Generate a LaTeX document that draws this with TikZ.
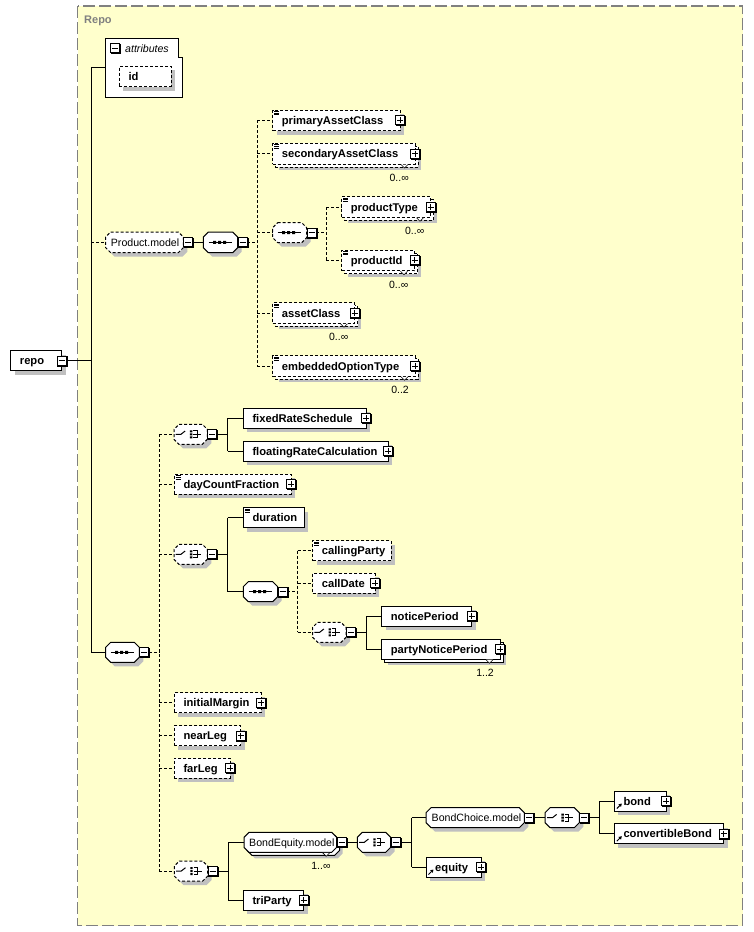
\documentclass[tikz,border=0pt]{standalone}
\usepackage{fontspec}
\setmainfont{Liberation Sans}
\usetikzlibrary{arrows.meta,calc}
\definecolor{bg}{RGB}{255,255,204}
\definecolor{shadowc}{RGB}{192,192,192}
\definecolor{framec}{RGB}{128,128,128}
\tikzset{
  ln/.style={line width=1pt},
  opt/.style={dash pattern=on 3pt off 2pt},
  frame/.style={draw=black, line width=1pt, fill=white},
  ename/.style={font=\fontsize{11.2}{13}\selectfont\bfseries, inner sep=0pt},
  mname/.style={font=\fontsize{10.6}{12}\selectfont, inner sep=0pt},
  occ/.style={font=\fontsize{10.5}{12}\selectfont, inner sep=0pt},
  pmbox/.style={draw=black, fill=white, line width=1pt, minimum size=9pt, inner sep=0pt, outer sep=0pt},
  boxnode/.style={inner sep=0pt, outer sep=0pt, anchor=north west},
}
% plain element box: name, style, x1, y1, x2, y2, text
\newcommand\Elem[7]{%
  \fill[shadowc] ({#3+4},{#4+4}) rectangle ({#5+4},{#6+4});
  \node[frame,#2,boxnode,minimum width={#5-#3},minimum height={#6-#4}] (#1) at (#3,#4) {};
  \node[ename,anchor=base west] (#1-t) at ({#3+9},{(#4+#6)/2+4}) {#7};
}
% multiple-occurrence element box
\newcommand\MElem[8]{%
  \fill[shadowc] ({#3+6},{#4+6}) rectangle ({#5+6},{#6+6});
  \draw[frame,#2] ({#3+3},{#4+3}) rectangle ({#5+3},{#6+3});
  \node[frame,#2,boxnode,minimum width={#5-#3},minimum height={#6-#4}] (#1) at (#3,#4) {};
  \node[ename,anchor=base west] (#1-t) at ({#3+9},{(#4+#6)/2+4}) {#7};
  \fill[white] ({#5-14},{#6+0.5}) -- ({#5-7},{#6+0.5}) -- ({#5-10.5},{#6+4}) -- cycle;
  \draw[line width=0.6pt] ({#5-14},{#6+0.5}) -- ({#5-10.5},{#6+4}) -- ({#5-7},{#6+0.5});
  \node[occ,anchor=base east] (#1-o) at ({#5-6},{#6+17.5}) {#8};
}
\newcommand\OctDraw[5]{\path[#1] ({#2+5},{#3}) -- ({#4-5},{#3}) -- ({#4},{#3+5}) -- ({#4},{#5-5}) -- ({#4-5},{#5}) -- ({#2+5},{#5}) -- ({#2},{#5-5}) -- ({#2},{#3+5}) -- cycle;}
% octagon: name, style, x1, y1, x2, y2
\newcommand\Oct[6]{%
  \OctDraw{fill=shadowc}{#3+4}{#4+4}{#5+4}{#6+4}
  \OctDraw{frame,#2}{#3}{#4}{#5}{#6}
  \node[boxnode,minimum width={#5-#3},minimum height={#6-#4}] (#1) at (#3,#4) {};
  \coordinate (#1-mc) at ({#5+5},{(#4+#6)/2});
}
\newcommand\MOct[7]{%
  \OctDraw{fill=shadowc}{#3+6}{#4+6}{#5+6}{#6+6}
  \OctDraw{frame,#2}{#3+3}{#4+3}{#5+3}{#6+3}
  \OctDraw{frame,#2}{#3}{#4}{#5}{#6}
  \node[boxnode,minimum width={#5-#3},minimum height={#6-#4}] (#1) at (#3,#4) {};
  \coordinate (#1-mc) at ({#5+5},{(#4+#6)/2});
  \fill[white] ({#5-14},{#6+0.5}) -- ({#5-7},{#6+0.5}) -- ({#5-10.5},{#6+4}) -- cycle;
  \draw[line width=0.6pt] ({#5-14},{#6+0.5}) -- ({#5-10.5},{#6+4}) -- ({#5-7},{#6+0.5});
  \node[occ,anchor=base east] (#1-o) at ({#5-6},{#6+17.5}) {#7};
}
\newcommand\Plus[2]{%
  \fill[black] ($(#2)+(-4.5,-4.5)$) rectangle ($(#2)+(6,6)$);
  \node[pmbox] (#1) at (#2) {};
  \draw[ln] ($(#2)+(-3,0)$) -- ($(#2)+(3,0)$) ($(#2)+(0,-3)$) -- ($(#2)+(0,3)$);
}
\newcommand\Minus[2]{%
  \fill[black] ($(#2)+(-4.5,-4.5)$) rectangle ($(#2)+(6,6)$);
  \node[pmbox] (#1) at (#2) {};
  \draw[ln] ($(#2)+(-3,0)$) -- ($(#2)+(3,0)$);
}
\newcommand\Mark[2]{\draw[line width=0.8pt] ({#1+1.5},{#2+1.2}) -- ++(5,0) ({#1+1.5},{#2+3}) -- ++(5,0) ({#1+1.5},{#2+4.8}) -- ++(5,0);}
\newcommand\RefIc[1]{\draw[line width=1pt,-{Triangle[length=3pt,width=3.5pt]}] ($(#1.south west)+(2.5,-2.5)$) -- ($(#1.south west)+(7.5,-7.5)$);}
\newcommand\SeqSym[1]{\begin{scope}[shift={(#1.center)}]
  \draw[ln] (-12,0) -- (11,0);
  \fill (-7.5,-1.5) rectangle (-4.5,1.5) (-2.5,-1.5) rectangle (0.5,1.5) (2.5,-1.5) rectangle (5.5,1.5);
\end{scope}}
\newcommand\ChSym[1]{\begin{scope}[shift={(#1.center)}]
  \draw[ln] (-15,0) -- (-9.7,0) -- (-5.5,-3.3);
  \fill (-0.7,-4) rectangle (1.6,-2) (-0.7,-1) rectangle (1.6,1) (-0.7,2) rectangle (1.6,4);
  \draw[line width=0.9pt] (2.6,-3.5) -- (6.5,-3.5) -- (6.5,3.5) -- (2.6,3.5) (2.6,0) -- (10.5,0);
\end{scope}}

\begin{document}
\begin{tikzpicture}[x=1pt,y=-1pt]
\useasboundingbox (0,0) rectangle (753,932);
\fill[white] (0,0) rectangle (753,932);
\draw[framec, line width=1.2pt, dash pattern=on 12pt off 4pt, fill=bg] (77.5,6) rectangle (742.5,925.5);
\node[font=\fontsize{11}{13}\selectfont\bfseries, text=framec, inner sep=0pt, anchor=base west] (repolbl) at (84,23) {Repo};

% ---------- root
\Elem{repo}{}{10.7}{350.7}{61.7}{370.5}{repo}
\Minus{repo-m}{repo.east}

% ---------- attributes
\draw[line width=1pt, fill=white] (105.7,38.3) -- (178.3,38.3) -- (178.3,57.7) -- (182.3,57.7) -- (182.3,97.3) -- (105.7,97.3) -- cycle;
\node[boxnode, minimum width=76.6, minimum height=59] (attr) at (105.7,38.3) {};
\Minus{attr-m}{115.3,48.3}
\node[font=\fontsize{10.6}{12}\selectfont\itshape, inner sep=0pt, anchor=base west] (attr-t) at (125,52) {attributes};
\Elem{id}{opt}{119.3}{66.3}{171}{86.7}{id}

% ---------- Product.model
\Oct{prod}{opt}{105.7}{232}{183.3}{252.7}
\node[mname, anchor=base west] (prod-t) at (110.7,246.3) {Product.model};
\Minus{prod-m}{prod-mc}
\Oct{seqA}{}{203.3}{232}{237.7}{252.7}
\SeqSym{seqA}
\Minus{seqA-m}{seqA-mc}

\Elem{pac}{opt}{272.7}{110}{400}{130.7}{primaryAssetClass}
\Mark{272.7}{110} \Plus{pac-p}{pac.east}
\MElem{sac}{opt}{272.7}{143.3}{415}{164}{secondaryAssetClass}{0..∞}
\Mark{272.7}{143.3} \Plus{sac-p}{sac.east}

\Oct{seqB}{opt}{272.7}{222.7}{306.7}{242.7}
\SeqSym{seqB}
\Minus{seqB-m}{seqB-mc}
\MElem{pt}{opt}{341.7}{196.7}{430.5}{217.3}{productType}{0..∞}
\Mark{341.7}{196.7} \Plus{pt-p}{pt.east}
\MElem{pid}{opt}{341.7}{250}{414.5}{270.7}{productId}{0..∞}
\Mark{341.7}{250} \Plus{pid-p}{pid.east}

\MElem{ac}{opt}{272.7}{302.7}{354.5}{323.3}{assetClass}{0..∞}
\Mark{272.7}{302.7} \Plus{ac-p}{ac.east}
\MElem{eot}{opt}{272.7}{355.7}{415}{376.3}{embeddedOptionType}{0..2}
\Mark{272.7}{355.7} \Plus{eot-p}{eot.east}

% ---------- main sequence
\Oct{seqM}{}{105.7}{642.3}{139.3}{662.3}
\SeqSym{seqM}
\Minus{seqM-m}{seqM-mc}

\Oct{ch1}{opt}{174}{424.3}{207.3}{444.3}
\ChSym{ch1}
\Minus{ch1-m}{ch1-mc}
\Elem{frs}{}{243.3}{408.3}{366.3}{428.3}{fixedRateSchedule}
\Plus{frs-p}{frs.east}
\Elem{frc}{}{243.3}{441}{388.3}{461}{floatingRateCalculation}
\Plus{frc-p}{frc.east}

\Elem{dcf}{opt}{174.3}{474.3}{291.2}{494.3}{dayCountFraction}
\Mark{174.3}{474.3} \Plus{dcf-p}{dcf.east}

\Oct{ch2}{opt}{174}{544.3}{207.3}{564.3}
\ChSym{ch2}
\Minus{ch2-m}{ch2-mc}
\Elem{dur}{}{243.3}{507.7}{304.3}{527.7}{duration}
\Mark{243.3}{507.7}
\Oct{seq3}{}{243.3}{581.7}{277.7}{601.7}
\SeqSym{seq3}
\Minus{seq3-m}{seq3-mc}
\Elem{cp}{opt}{312.7}{540.7}{391}{560.7}{callingParty}
\Mark{312.7}{540.7}
\Elem{cd}{opt}{312.7}{573.3}{375}{593.3}{callDate}
\Plus{cd-p}{cd.east}
\Oct{ch3}{opt}{312.7}{622.3}{346}{642.3}
\ChSym{ch3}
\Minus{ch3-m}{ch3-mc}
\Elem{np}{}{381.7}{606.3}{471.7}{626.3}{noticePeriod}
\Plus{np-p}{np.east}
\MElem{pnp}{}{381.7}{639.2}{500}{659.2}{partyNoticePeriod}{1..2}
\Plus{pnp-p}{pnp.east}

\Elem{im}{opt}{174.3}{692.7}{261.3}{712.7}{initialMargin}
\Plus{im-p}{im.east}
\Elem{nl}{opt}{174.3}{725.7}{240.8}{745.7}{nearLeg}
\Plus{nl-p}{nl.east}
\Elem{fl}{opt}{174.3}{758.3}{230.3}{778.3}{farLeg}
\Plus{fl-p}{fl.east}

\Oct{ch4}{opt}{174.3}{861}{207.7}{881}
\ChSym{ch4}
\Minus{ch4-m}{ch4-mc}
\MOct{be}{}{244}{832.3}{336.7}{852.3}{1..∞}
\node[mname, anchor=base west] (be-t) at (249,846.3) {BondEquity.model};
\Minus{be-m}{be-mc}
\Elem{tp}{}{243.3}{890}{303.8}{910}{triParty}
\Plus{tp-p}{tp.east}
\Oct{ch5}{}{357.3}{832.3}{390.7}{852.3}
\ChSym{ch5}
\Minus{ch5-m}{ch5-mc}
\Oct{bc}{}{426}{807.7}{524.3}{827.7}
\node[mname, anchor=base west] (bc-t) at (431.5,821.7) {BondChoice.model};
\Minus{bc-m}{bc-mc}
\Elem{eq}{}{426}{857}{481.2}{877}{equity}
\RefIc{eq} \Plus{eq-p}{eq.east}
\Oct{ch6}{}{545}{807.7}{579.3}{827.7}
\ChSym{ch6}
\Minus{ch6-m}{ch6-mc}
\Elem{bond}{}{614.3}{791}{666.2}{811}{bond}
\RefIc{bond} \Plus{bond-p}{bond.east}
\Elem{cb}{}{614.3}{823.7}{723.8}{843.7}{convertibleBond}
\RefIc{cb} \Plus{cb-p}{cb.east}

% ---------- connectors
\coordinate (b0) at (91,0);
\draw[ln] (repo-m.east) -- (repo-m.east -| b0);
\draw[ln] (b0 |- attr.west) -- (b0 |- seqM.west);
\draw[ln] (b0 |- attr.west) -- (attr.west);
\draw[ln,opt] (b0 |- prod.west) -- (prod.west);
\draw[ln] (b0 |- seqM.west) -- (seqM.west);

\draw[ln] (prod-m.east) -- (seqA.west);

\coordinate (b1) at (257,0);
\draw[ln,opt] (seqA-m.east) -- (seqA-m.east -| b1);
\draw[ln,opt] (b1 |- pac.west) -- (b1 |- eot.west);
\foreach \c in {pac,sac,seqB,ac,eot} \draw[ln,opt] (b1 |- \c.west) -- (\c.west);

\coordinate (b2) at (326,0);
\draw[ln,opt] (seqB-m.east) -- (seqB-m.east -| b2);
\draw[ln,opt] (b2 |- pt.west) -- (b2 |- pid.west);
\foreach \c in {pt,pid} \draw[ln,opt] (b2 |- \c.west) -- (\c.west);

\coordinate (b3) at (159.3,0);
\draw[ln,opt] (seqM-m.east) -- (seqM-m.east -| b3);
\draw[ln,opt] (b3 |- ch1.west) -- (b3 |- ch4.west);
\foreach \c in {ch1,dcf,ch2,im,nl,fl,ch4} \draw[ln,opt] (b3 |- \c.west) -- (\c.west);

\coordinate (b4) at (227.7,0);
\draw[ln] (ch1-m.east) -- (ch1-m.east -| b4);
\draw[ln] (b4 |- frs.west) -- (b4 |- frc.west);
\foreach \c in {frs,frc} \draw[ln] (b4 |- \c.west) -- (\c.west);

\coordinate (b5) at (227.7,0);
\draw[ln] (ch2-m.east) -- (ch2-m.east -| b5);
\draw[ln] (b5 |- dur.west) -- (b5 |- seq3.west);
\foreach \c in {dur,seq3} \draw[ln] (b5 |- \c.west) -- (\c.west);

\coordinate (b6) at (297.7,0);
\draw[ln,opt] (seq3-m.east) -- (seq3-m.east -| b6);
\draw[ln,opt] (b6 |- cp.west) -- (b6 |- ch3.west);
\foreach \c in {cp,cd,ch3} \draw[ln,opt] (b6 |- \c.west) -- (\c.west);

\coordinate (b7) at (366,0);
\draw[ln] (ch3-m.east) -- (ch3-m.east -| b7);
\draw[ln] (b7 |- np.west) -- (b7 |- pnp.west);
\foreach \c in {np,pnp} \draw[ln] (b7 |- \c.west) -- (\c.west);

\coordinate (b8) at (228.3,0);
\draw[ln] (ch4-m.east) -- (ch4-m.east -| b8);
\draw[ln] (b8 |- be.west) -- (b8 |- tp.west);
\foreach \c in {be,tp} \draw[ln] (b8 |- \c.west) -- (\c.west);

\draw[ln] (be-m.east) -- (ch5.west);

\coordinate (b9) at (411.7,0);
\draw[ln] (ch5-m.east) -- (ch5-m.east -| b9);
\draw[ln] (b9 |- bc.west) -- (b9 |- eq.west);
\foreach \c in {bc,eq} \draw[ln] (b9 |- \c.west) -- (\c.west);

\draw[ln] (bc-m.east) -- (ch6.west);

\coordinate (b10) at (599.3,0);
\draw[ln] (ch6-m.east) -- (ch6-m.east -| b10);
\draw[ln] (b10 |- bond.west) -- (b10 |- cb.west);
\foreach \c in {bond,cb} \draw[ln] (b10 |- \c.west) -- (\c.west);
\end{tikzpicture}
\end{document}
